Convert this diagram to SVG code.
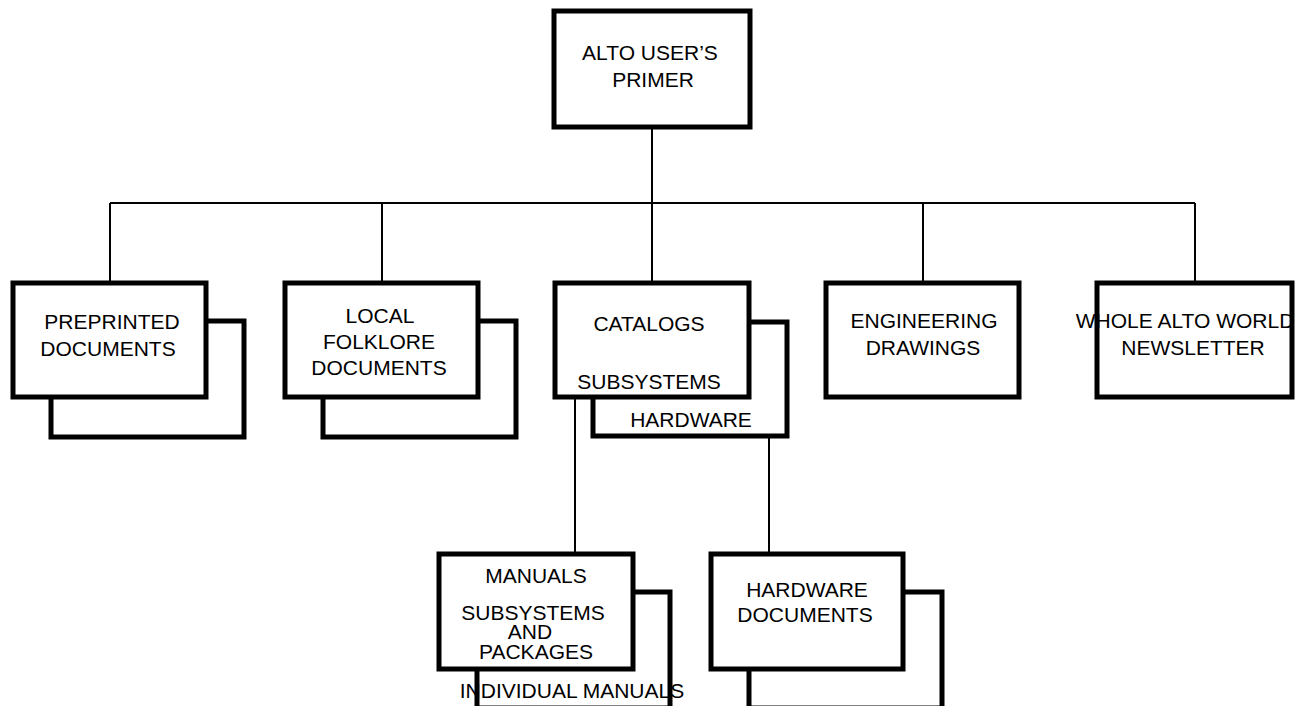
<svg xmlns="http://www.w3.org/2000/svg" width="1304" height="706" viewBox="0 0 1304 706">
<style>
.box{fill:#fff;stroke:#000;stroke-width:5}
.con{fill:none;stroke:#000;stroke-width:2}
text{font-family:"Liberation Sans",Arial,sans-serif;font-size:21px;fill:#000;text-anchor:middle}
</style>
<rect width="1304" height="706" fill="#fff"/>
<g id="connectors">
<line class="con" x1="652" y1="127" x2="652" y2="283"/>
<line class="con" x1="110" y1="203" x2="1195" y2="203"/>
<line class="con" x1="110" y1="203" x2="110" y2="283"/>
<line class="con" x1="382" y1="203" x2="382" y2="283"/>
<line class="con" x1="923" y1="203" x2="923" y2="283"/>
<line class="con" x1="1195" y1="203" x2="1195" y2="283"/>
<line class="con" x1="575" y1="397" x2="575" y2="554"/>
<line class="con" x1="769" y1="436" x2="769" y2="554"/>
</g>
<g id="node-primer">
<rect class="box" x="554" y="11" width="196" height="116"/>
<text x="650" y="60">ALTO USER’S</text>
<text x="653" y="87">PRIMER</text>
</g>
<g id="node-preprinted">
<rect class="box" x="51" y="321" width="193" height="116"/>
<rect class="box" x="13" y="283" width="193" height="114"/>
<text x="112" y="329">PREPRINTED</text>
<text x="108" y="356">DOCUMENTS</text>
</g>
<g id="node-folklore">
<rect class="box" x="323" y="321" width="193" height="116"/>
<rect class="box" x="285" y="283" width="193" height="114"/>
<text x="380" y="323">LOCAL</text>
<text x="379" y="349">FOLKLORE</text>
<text x="379" y="375">DOCUMENTS</text>
</g>
<g id="node-catalogs">
<rect class="box" x="593" y="322" width="194" height="114"/>
<rect class="box" x="555" y="283" width="194" height="114"/>
<text x="649" y="331">CATALOGS</text>
<text x="649" y="389">SUBSYSTEMS</text>
<text x="691" y="427">HARDWARE</text>
</g>
<g id="node-engineering">
<rect class="box" x="826" y="283" width="193" height="114"/>
<text x="924" y="328">ENGINEERING</text>
<text x="923" y="355">DRAWINGS</text>
</g>
<g id="node-newsletter">
<rect class="box" x="1097" y="283" width="195" height="114"/>
<text x="1185" y="328">WHOLE ALTO WORLD</text>
<text x="1193" y="355">NEWSLETTER</text>
</g>
<g id="node-manuals">
<rect class="box" x="477" y="592" width="193" height="116"/>
<rect class="box" x="439" y="554" width="194" height="115"/>
<text x="536" y="583">MANUALS</text>
<text x="533" y="620">SUBSYSTEMS</text>
<text x="530" y="639">AND</text>
<text x="536" y="659">PACKAGES</text>
<text x="572" y="698">INDIVIDUAL MANUALS</text>
</g>
<g id="node-hardware">
<rect class="box" x="749" y="592" width="193" height="116"/>
<rect class="box" x="711" y="554" width="192" height="115"/>
<text x="807" y="597">HARDWARE</text>
<text x="805" y="622">DOCUMENTS</text>
</g>
</svg>
